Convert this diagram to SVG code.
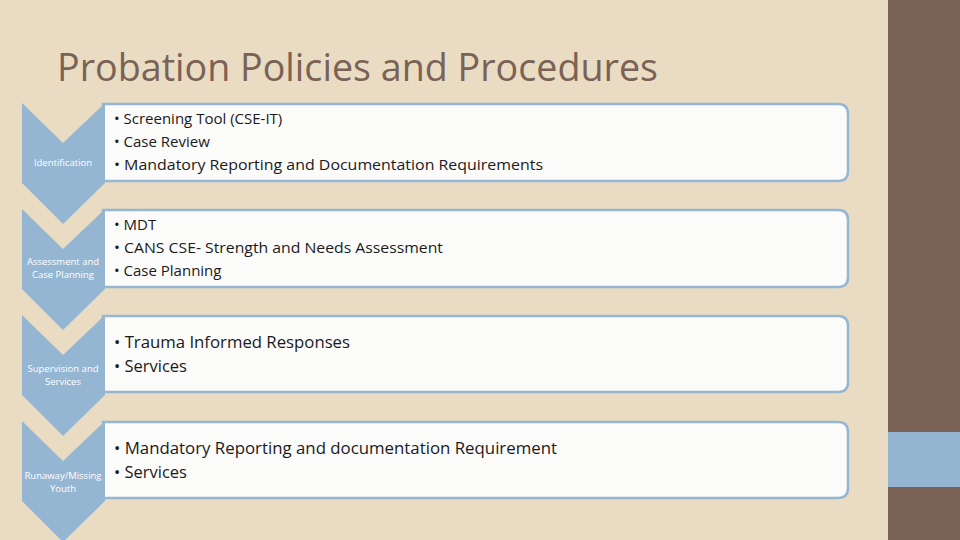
<svg xmlns="http://www.w3.org/2000/svg" width="960" height="540" viewBox="0 0 960 540">
<style>
.chev{fill:#94b6d3;}
.box{fill:#fbfbfa;stroke:#96b6d3;stroke-width:2.5;}
.lbl{font-family:"Open Sans","Liberation Sans",sans-serif;font-size:9.5px;fill:#ffffff;text-anchor:middle;}
.item{font-family:"Open Sans","Liberation Sans",sans-serif;fill:#1a1a1a;}
.t{font-family:"Open Sans","Liberation Sans",sans-serif;font-size:38px;fill:#7a6256;}
</style>
<rect x="0" y="0" width="960" height="540" fill="#e9dcc3"/>
<rect x="888" y="0" width="72" height="540" fill="#7a6155"/>
<rect x="888" y="432" width="72" height="55" fill="#94b5d2"/>
<text class="t" x="57" y="81" textLength="601" lengthAdjust="spacingAndGlyphs">Probation Policies and Procedures</text>

<g id="n1">
<path class="box" d="M103,104 H838 Q848,104 848,114 V171 Q848,181 838,181 H103 Z"/>
<path class="chev" d="M22,103 L63,143 L105,103 V183 L63,224 L22,183 Z"/>
<text class="lbl" x="63" y="166">Identification</text>
<text class="item" font-size="15" x="114" y="124">• Screening Tool (CSE-IT)</text>
<text class="item" font-size="15" x="114" y="147">• Case Review</text>
<text class="item" font-size="15" x="114" y="170" textLength="429" lengthAdjust="spacingAndGlyphs">• Mandatory Reporting and Documentation Requirements</text>
</g>

<g id="n2">
<path class="box" d="M103,210 H838 Q848,210 848,220 V277 Q848,287 838,287 H103 Z"/>
<path class="chev" d="M22,209 L63,249 L105,209 V289 L63,330 L22,289 Z"/>
<text class="lbl" x="63" y="264.5">Assessment and</text>
<text class="lbl" x="63" y="278">Case Planning</text>
<text class="item" font-size="15" x="114" y="230">• MDT</text>
<text class="item" font-size="15" x="114" y="253" textLength="329" lengthAdjust="spacingAndGlyphs">• CANS CSE- Strength and Needs Assessment</text>
<text class="item" font-size="15" x="114" y="276">• Case Planning</text>
</g>

<g id="n3">
<path class="box" d="M103,316 H838 Q848,316 848,326 V382 Q848,392 838,392 H103 Z"/>
<path class="chev" d="M22,315 L63,355 L105,315 V395 L63,436 L22,395 Z"/>
<text class="lbl" x="63" y="371.5">Supervision and</text>
<text class="lbl" x="63" y="385">Services</text>
<text class="item" font-size="16.5" x="114" y="348" textLength="236" lengthAdjust="spacingAndGlyphs">• Trauma Informed Responses</text>
<text class="item" font-size="16.5" x="114" y="372">• Services</text>
</g>

<g id="n4">
<path class="box" d="M103,422 H838 Q848,422 848,432 V488 Q848,498 838,498 H103 Z"/>
<path class="chev" d="M22,421 L63,461 L105,421 V501 L63,542 L22,501 Z"/>
<text class="lbl" x="63" y="478.5">Runaway/Missing</text>
<text class="lbl" x="63" y="492">Youth</text>
<text class="item" font-size="16.5" x="114" y="454" textLength="443" lengthAdjust="spacingAndGlyphs">• Mandatory Reporting and documentation Requirement</text>
<text class="item" font-size="16.5" x="114" y="478">• Services</text>
</g>

<g id="connectors"></g>
</svg>
